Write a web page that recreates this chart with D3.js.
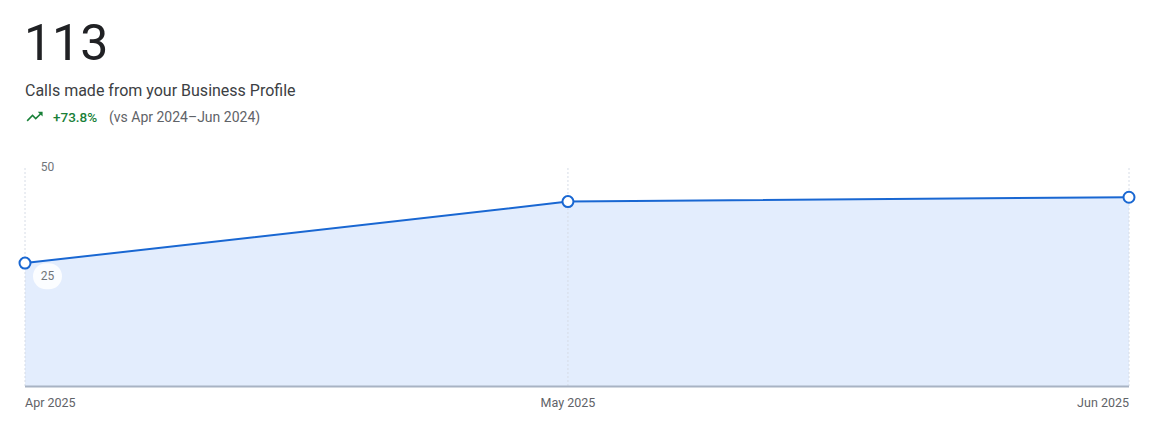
<!DOCTYPE html>
<html>
<head>
<meta charset="utf-8">
<script src="https://cdn.jsdelivr.net/npm/d3@7"></script>
<style>
  body { margin: 0; background: #fff; font-family: Roboto, "Noto Sans", sans-serif; }
</style>
</head>
<body>
<script>
var months = ['Apr 2025', 'May 2025', 'Jun 2025'];
var monthDates = ['2025-04-01', '2025-05-01', '2025-06-01'];
var calls = [28, 42, 43];
var yTicks = [25, 50];
var total = '113';
var title = 'Calls made from your Business Profile';
var change = '+73.8%';
var compare = '(vs Apr 2024\u2013Jun 2024)';

var dates = monthDates.map(d => new Date(d + 'T00:00:00Z'));

var svg = d3.select('body').append('svg').attr('width', 1165).attr('height', 430);

var x = d3.scaleUtc().domain(d3.extent(dates)).range([25, 1129]);
var y = d3.scaleLinear().domain([0, 50]).range([386, 166.5]);

// header
svg.append('text').attr('x', 24).attr('y', 60)
    .attr('font-size', 50).attr('fill', '#202124').text(total);
svg.append('text').attr('x', 25).attr('y', 96)
    .attr('font-size', 16).attr('fill', '#3c4043').text(title);
svg.append('path')
    .attr('d', 'M16 6l2.29 2.29-4.88 4.88-4-4L2 16.59 3.41 18l6-6 4 4 6.3-6.29L22 12V6z')
    .attr('transform', 'translate(25,107) scale(0.8)')
    .attr('fill', '#188038');
svg.append('text').attr('x', 53).attr('y', 122)
    .attr('font-size', 13.5).attr('font-weight', 500).attr('fill', '#188038').text(change);
svg.append('text').attr('x', 109).attr('y', 122)
    .attr('font-size', 14).attr('fill', '#5f6368').text(compare);

// area
var area = d3.area()
    .x((d, i) => x(dates[i]))
    .y0(y(0))
    .y1(d => y(d));
svg.append('path').datum(calls)
    .attr('d', area).attr('fill', '#e3edfd');

// vertical gridlines
svg.selectAll('line.grid')
    .data(dates)
    .enter().append('line')
    .attr('class', 'grid')
    .attr('x1', d => x(d)).attr('x2', d => x(d))
    .attr('y1', 168).attr('y2', 386)
    .attr('stroke', '#d6dce6').attr('stroke-dasharray', '2,2');

// baseline
svg.append('line')
    .attr('x1', 25).attr('x2', 1129)
    .attr('y1', y(0) + 0.5).attr('y2', y(0) + 0.5)
    .attr('stroke', '#a8b3c4').attr('stroke-width', 2);

// line
var line = d3.line()
    .x((d, i) => x(dates[i]))
    .y(d => y(d));
svg.append('path').datum(calls)
    .attr('d', line).attr('fill', 'none')
    .attr('stroke', '#1967d2').attr('stroke-width', 2);

// y labels
svg.selectAll('rect.ybg')
    .data(yTicks)
    .enter().append('rect')
    .attr('class', 'ybg')
    .attr('x', 33).attr('y', d => y(d) - 13)
    .attr('width', 29).attr('height', 26).attr('rx', 13)
    .attr('fill', '#fff').attr('opacity', 0.85);
svg.selectAll('text.ytick')
    .data(yTicks)
    .enter().append('text')
    .attr('class', 'ytick')
    .attr('x', 47.5).attr('y', d => y(d) + 4)
    .attr('text-anchor', 'middle')
    .attr('font-size', 12).attr('fill', '#70757a')
    .text(d => d);

// points
svg.selectAll('circle')
    .data(calls)
    .enter().append('circle')
    .attr('cx', (d, i) => x(dates[i]))
    .attr('cy', d => y(d))
    .attr('r', 5.5)
    .attr('fill', '#fff')
    .attr('stroke', '#1967d2').attr('stroke-width', 2);

// x labels
svg.selectAll('text.xtick')
    .data(months)
    .enter().append('text')
    .attr('class', 'xtick')
    .attr('x', (d, i) => x(dates[i]))
    .attr('y', 407)
    .attr('text-anchor', (d, i) => i === 0 ? 'start' : (i === months.length - 1 ? 'end' : 'middle'))
    .attr('font-size', 12.5).attr('fill', '#5f6368')
    .text(d => d);
</script>
</body>
</html>
